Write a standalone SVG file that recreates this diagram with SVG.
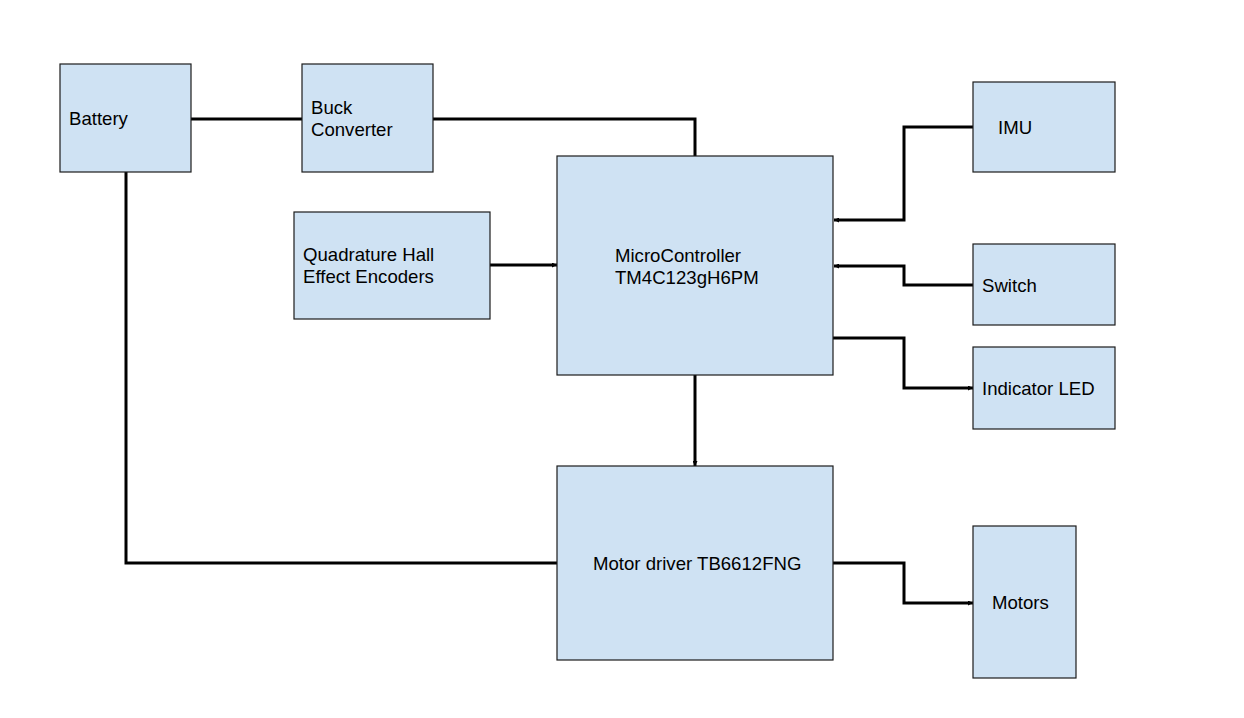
<svg xmlns="http://www.w3.org/2000/svg" width="1244" height="718" viewBox="0 0 1244 718">
<defs>
<style>
.box{fill:#cfe2f3;stroke:#1c1c1c;stroke-width:1.2}
.lbl{font-family:"Liberation Sans",Arial,sans-serif;font-size:18.6px;fill:#000}
.wire{fill:none;stroke:#000;stroke-width:3}
</style>
<marker id="ah" viewBox="0 0 5 5" refX="5" refY="2.5" markerWidth="5" markerHeight="5" markerUnits="userSpaceOnUse" orient="auto">
<path d="M0,0 L5,2.5 L0,5 z" fill="#000"/>
</marker>
</defs>
<rect width="1244" height="718" fill="#fff"/>
<g id="connectors">
<path class="wire" d="M191,119 H302"/>
<path class="wire" d="M433,119 H695 V156"/>
<path class="wire" d="M126,172 V563 H557"/>
<path class="wire" d="M490,265 H557" marker-end="url(#ah)"/>
<path class="wire" d="M973,127 H904 V220 H834" marker-end="url(#ah)"/>
<path class="wire" d="M973,285 H904 V266 H834" marker-end="url(#ah)"/>
<path class="wire" d="M833,338 H904 V388 H973" marker-end="url(#ah)"/>
<path class="wire" d="M695,375 V466" marker-end="url(#ah)"/>
<path class="wire" d="M833,563 H904 V603 H973" marker-end="url(#ah)"/>
</g>
<g id="battery">
<rect class="box" x="60" y="64" width="131" height="108"/>
<text class="lbl" x="69" y="125">Battery</text>
</g>
<g id="buck">
<rect class="box" x="302" y="64" width="131" height="108"/>
<text class="lbl" x="311" y="114">Buck</text>
<text class="lbl" x="311" y="136">Converter</text>
</g>
<g id="mcu">
<rect class="box" x="557" y="156" width="276" height="219"/>
<text class="lbl" x="615" y="262">MicroController</text>
<text class="lbl" x="615" y="284">TM4C123gH6PM</text>
</g>
<g id="encoders">
<rect class="box" x="294" y="212" width="196" height="107"/>
<text class="lbl" x="303" y="261">Quadrature Hall</text>
<text class="lbl" x="303" y="283">Effect Encoders</text>
</g>
<g id="imu">
<rect class="box" x="973" y="82" width="142" height="90"/>
<text class="lbl" x="998" y="134">IMU</text>
</g>
<g id="switch">
<rect class="box" x="973" y="244" width="142" height="81"/>
<text class="lbl" x="982" y="292">Switch</text>
</g>
<g id="led">
<rect class="box" x="973" y="347" width="142" height="82"/>
<text class="lbl" x="982" y="395">Indicator LED</text>
</g>
<g id="driver">
<rect class="box" x="557" y="466" width="276" height="194"/>
<text class="lbl" x="593" y="570">Motor driver TB6612FNG</text>
</g>
<g id="motors">
<rect class="box" x="973" y="526" width="103" height="152"/>
<text class="lbl" x="992" y="609">Motors</text>
</g>
</svg>
